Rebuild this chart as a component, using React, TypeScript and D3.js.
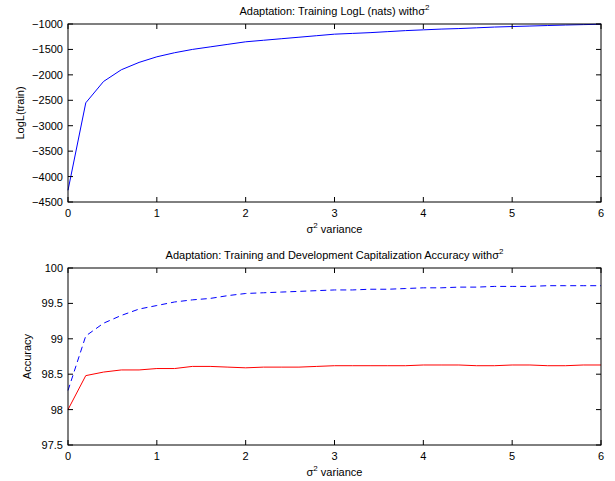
import * as d3 from 'd3'

// sigma^2 values, every 0.2 from 0 to 6
const variance = [
  0, 0.2, 0.4, 0.6, 0.8, 1, 1.2, 1.4, 1.6, 1.8, 2, 2.2, 2.4, 2.6, 2.8, 3, 3.2,
  3.4, 3.6, 3.8, 4, 4.2, 4.4, 4.6, 4.8, 5, 5.2, 5.4, 5.6, 5.8, 6,
]

const logLTrain = [
  -4270, -2550, -2130, -1900, -1755, -1645, -1565, -1500, -1450, -1400, -1350,
  -1320, -1290, -1260, -1230, -1200, -1185, -1170, -1150, -1130, -1115, -1100,
  -1090, -1075, -1060, -1050, -1040, -1030, -1020, -1012, -1005,
]

const trainAccuracy = [
  98.27, 99.04, 99.22, 99.33, 99.42, 99.47, 99.52, 99.55, 99.57, 99.61, 99.64,
  99.65, 99.66, 99.67, 99.68, 99.69, 99.69, 99.7, 99.7, 99.71, 99.72, 99.72,
  99.73, 99.73, 99.74, 99.74, 99.74, 99.75, 99.75, 99.75, 99.75,
]

const devAccuracy = [
  98.0, 98.48, 98.53, 98.56, 98.56, 98.58, 98.58, 98.61, 98.61, 98.6, 98.59,
  98.6, 98.6, 98.6, 98.61, 98.62, 98.62, 98.62, 98.62, 98.62, 98.63, 98.63,
  98.63, 98.62, 98.62, 98.63, 98.63, 98.62, 98.62, 98.63, 98.63,
]

const xTicks = [0, 1, 2, 3, 4, 5, 6]
const logLTicks = [-4500, -4000, -3500, -3000, -2500, -2000, -1500, -1000]
const accTicks = [97.5, 98, 98.5, 99, 99.5, 100]

const font = 'Liberation Sans, Arial, Helvetica, sans-serif'
const left = 68
const right = 601
const tickLen = 5

const fmt = (v: number) => String(v).replace('-', '\u2212')

type Series = { values: number[]; color: string; dash?: string }

const Panel = ({
  top,
  bottom,
  domain,
  yTicks,
  title,
  yLabel,
  yLabelX,
  series,
}: {
  top: number
  bottom: number
  domain: [number, number]
  yTicks: number[]
  title: string
  yLabel: string
  yLabelX: number
  series: Series[]
}) => {
  const x = d3.scaleLinear().domain([0, 6]).range([left, right])
  const y = d3.scaleLinear().domain(domain).range([bottom, top])
  const line = (vals: number[]) =>
    d3
      .line<number>()
      .x((_, i) => x(variance[i]))
      .y((d) => y(d))(vals) || ''
  const midX = (left + right) / 2

  return (
    <g fontFamily={font} fontSize={11} fill="#000">
      <text x={midX} y={top - 9} textAnchor="middle">
        {title}
        <tspan dx={0}>σ</tspan>
        <tspan dy={-5} fontSize={8}>
          2
        </tspan>
      </text>
      {series.map((s, i) => (
        <path
          key={i}
          d={line(s.values)}
          fill="none"
          stroke={s.color}
          strokeWidth={1}
          strokeDasharray={s.dash}
        />
      ))}
      <rect
        x={left}
        y={top}
        width={right - left}
        height={bottom - top}
        fill="none"
        stroke="#000"
        strokeWidth={1}
      />
      {xTicks.map((t) => (
        <g key={t}>
          <line x1={x(t)} x2={x(t)} y1={bottom} y2={bottom - tickLen} stroke="#000" />
          <line x1={x(t)} x2={x(t)} y1={top} y2={top + tickLen} stroke="#000" />
          <text x={x(t)} y={bottom + 15} textAnchor="middle">
            {fmt(t)}
          </text>
        </g>
      ))}
      {yTicks.map((t) => (
        <g key={t}>
          <line x1={left} x2={left + tickLen} y1={y(t)} y2={y(t)} stroke="#000" />
          <line x1={right} x2={right - tickLen} y1={y(t)} y2={y(t)} stroke="#000" />
          <text x={left - 5} y={y(t) + 4} textAnchor="end">
            {fmt(t)}
          </text>
        </g>
      ))}
      <text x={midX} y={bottom + 31} textAnchor="middle">
        <tspan>σ</tspan>
        <tspan dy={-5} fontSize={8}>
          2
        </tspan>
        <tspan dy={5}> variance</tspan>
      </text>
      <text
        transform={`translate(${yLabelX}, ${(top + bottom) / 2}) rotate(-90)`}
        textAnchor="middle"
      >
        {yLabel}
      </text>
    </g>
  )
}

export default function App() {
  return (
    <svg
      width={615}
      height={481}
      style={{ position: 'absolute', left: 0, top: 0, background: '#fff' }}
    >
      <rect width={615} height={481} fill="#fff" />
      <Panel
        top={24}
        bottom={202}
        domain={[-4500, -1000]}
        yTicks={logLTicks}
        title="Adaptation: Training LogL (nats) with"
        yLabel="LogL(train)"
        yLabelX={24}
        series={[{ values: logLTrain, color: '#0000ff' }]}
      />
      <Panel
        top={268}
        bottom={445}
        domain={[97.5, 100]}
        yTicks={accTicks}
        title="Adaptation: Training and Development Capitalization Accuracy with"
        yLabel="Accuracy"
        yLabelX={31}
        series={[
          { values: trainAccuracy, color: '#0000ff', dash: '6,4' },
          { values: devAccuracy, color: '#ff0000' },
        ]}
      />
    </svg>
  )
}
